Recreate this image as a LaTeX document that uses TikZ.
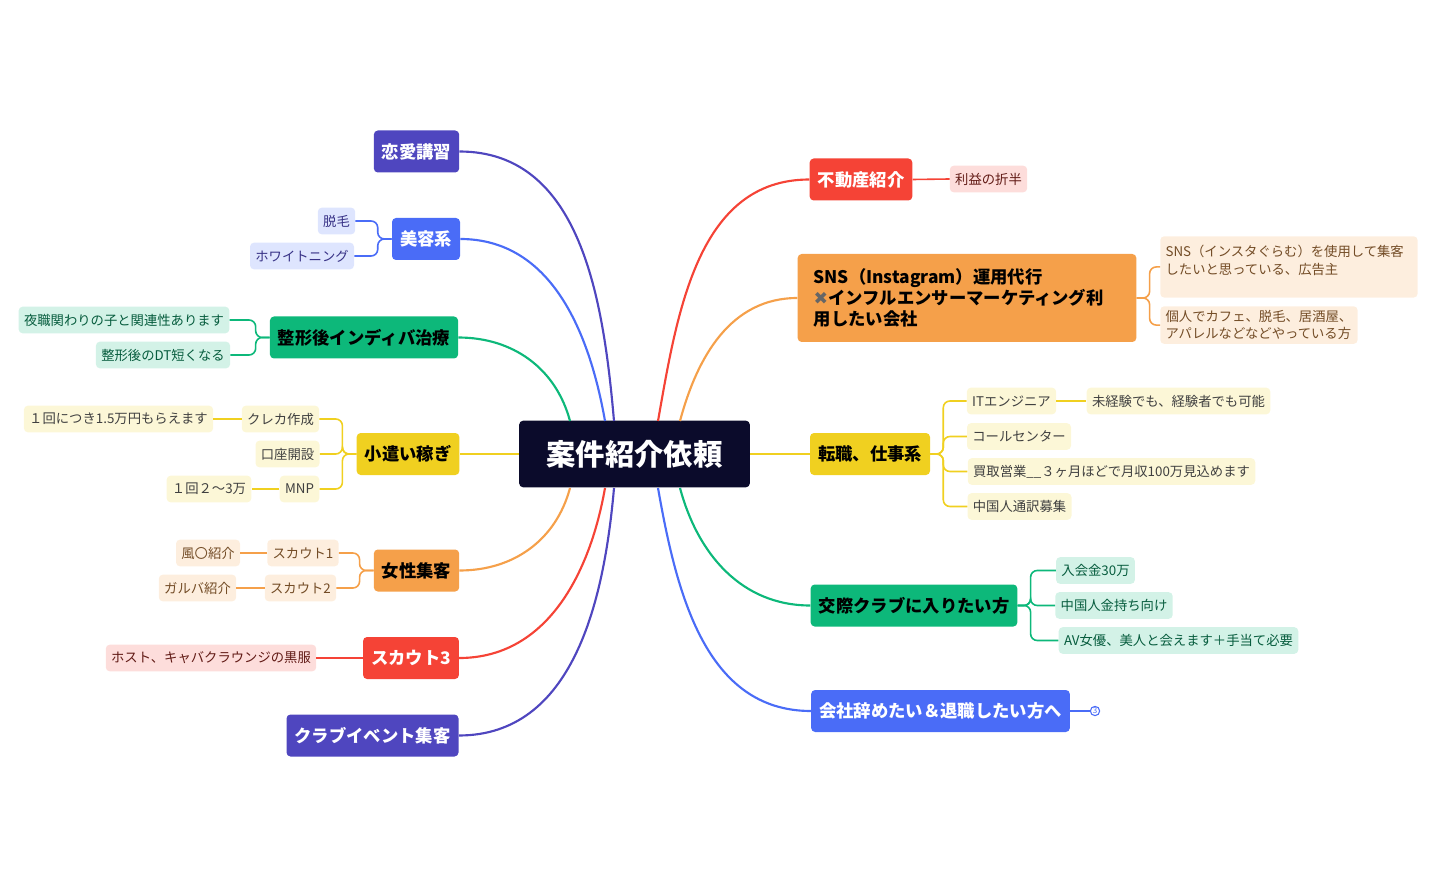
\documentclass[tikz,border=0pt]{standalone}
\usepackage{fontspec}
\setmainfont{Noto Sans CJK JP}
\newfontfamily\symfont{DejaVu Sans}
\usetikzlibrary{positioning}

\definecolor{cnavy}{HTML}{0B0B2B}
\definecolor{cindigo}{HTML}{4F46BF}
\definecolor{cblue}{HTML}{4A6CF7}
\definecolor{cgreen}{HTML}{0DB87A}
\definecolor{cyellow}{HTML}{F0D020}
\definecolor{corange}{HTML}{F5A04A}
\definecolor{cred}{HTML}{F54336}

\tikzset{
  topic/.style={rounded corners=3pt, fill=#1, font=\fontsize{13}{16}\selectfont\bfseries, inner xsep=6pt, minimum height=31.5pt},
  leaf/.style={rounded corners=3pt, fill=#1!18, font=\fontsize{10}{13}\selectfont, inner xsep=4pt, minimum height=20pt},
  link/.style={line width=1.6pt, draw=#1},
  twig/.style={line width=1.2pt, draw=#1, rounded corners=5pt},
}

\begin{document}
\begin{tikzpicture}[x=0.75pt, y=-0.75pt]
  \useasboundingbox (0,0) rectangle (1433,887);

  % centre
  \node[fill=cnavy, rounded corners=3pt, text=white, minimum width=173pt, minimum height=50pt,
        font=\fontsize{22}{26}\selectfont\bfseries] (C) at (634.5,454) {案件紹介依頼};

  % left topics
  \node[topic=cindigo, text=white] (love) at (416.5,151.5) {恋愛講習};
  \node[topic=cblue, text=white] (beauty) at (426,239) {美容系};
  \node[topic=cgreen, text=black] (indiba) at (364,337.5) {整形後インディバ治療};
  \node[topic=cyellow, text=black] (side) at (408,454) {小遣い稼ぎ};
  \node[topic=corange, text=black] (women) at (416.5,570.5) {女性集客};
  \node[topic=cred, text=white] (scout) at (411,658) {スカウト3};
  \node[topic=cindigo, text=white] (club) at (372.5,735.5) {クラブイベント集客};

  % right topics
  \node[topic=cred, text=white] (estate) at (861,179.5) {不動産紹介};
  \node[topic=corange, text=black, align=left, text width=230pt, minimum height=66pt, inner xsep=12pt] (sns) at (967,298)
    {SNS（Instagram）運用代行\\{\symfont\color{black!60}✖}インフルエンサーマーケティング利\\用したい会社};
  \node[topic=cyellow, text=black] (job) at (870,454) {転職、仕事系};
  \node[topic=cgreen, text=black] (dating) at (914,605.5) {交際クラブに入りたい方};
  \node[topic=cblue, text=white] (quit) at (940.5,711) {会社辞めたい＆退職したい方へ};
  \node[circle, draw=cblue, line width=0.8pt, inner sep=0.5pt, text=cblue, font=\fontsize{6}{6}\selectfont] (more) at (1095,711) {3};

  % branches from centre
  \draw[link=cindigo] (614,421) to[out=95,in=0] (love.east);
  \draw[link=cblue] (605,421) to[out=100,in=0] (beauty.east);
  \draw[link=cgreen] (570,421) to[out=105,in=0] (indiba.east);
  \draw[link=cyellow] (C.west) -- (side.east);
  \draw[link=corange] (570,488) to[out=-105,in=0] (women.east);
  \draw[link=cred] (605,488) to[out=-100,in=0] (scout.east);
  \draw[link=cindigo] (614,488) to[out=-95,in=0] (club.east);
  \draw[link=cred] (658,421) to[out=80,in=180] (estate.west);
  \draw[link=corange] (680,421) to[out=75,in=180] (sns.west);
  \draw[link=cyellow] (C.east) -- (job.west);
  \draw[link=cgreen] (680,488) to[out=-75,in=180] (dating.west);
  \draw[link=cblue] (658,488) to[out=-80,in=180] (quit.west);
  \draw[line width=1pt, draw=cblue] (quit.east) -- (more.west);

  % leaves left
  \node[leaf=cblue, text=cindigo!70!black] (hair) at (336.5,221) {脱毛};
  \node[leaf=cblue, text=cindigo!70!black] (white) at (302,256) {ホワイトニング};
  \node[leaf=cgreen, text=cgreen!50!black] (night) at (124,320) {夜職関わりの子と関連性あります};
  \node[leaf=cgreen, text=cgreen!50!black] (dt) at (163,355) {整形後のDT短くなる};
  \node[leaf=cyellow, text=black!75] (card) at (280.5,419) {クレカ作成};
  \node[leaf=cyellow, text=black!75] (bank) at (287.5,454) {口座開設};
  \node[leaf=cyellow, text=black!75] (mnp) at (299.5,489) {MNP};
  \node[leaf=cyellow, text=black!75] (cardpay) at (118.5,419) {１回につき1.5万円もらえます};
  \node[leaf=cyellow, text=black!75] (mnppay) at (209,489) {１回２～3万};
  \node[leaf=corange, text=brown!60!black] (s1) at (303,553) {スカウト1};
  \node[leaf=corange, text=brown!60!black] (s2) at (300.5,588) {スカウト2};
  \node[leaf=corange, text=brown!60!black] (fu) at (208,553) {風〇紹介};
  \node[leaf=corange, text=brown!60!black] (garuba) at (197.5,588) {ガルバ紹介};
  \node[leaf=cred, text=cred!40!black] (host) at (211,658) {ホスト、キャバクラウンジの黒服};

  % leaves right
  \node[leaf=cred, text=cred!40!black] (profit) at (988.5,179) {利益の折半};
  \node[leaf=corange, text=brown!60!black, align=left, text width=185pt, minimum height=46pt, anchor=north west, inner ysep=4pt] (ad) at (1160,236)
    {SNS（インスタぐらむ）を使用して集客\\したいと思っている、広告主\par\vspace{10pt}};
  \node[leaf=corange, text=brown!60!black, align=left, anchor=north west, inner ysep=3pt] (shop) at (1160,306)
    {個人でカフェ、脱毛、居酒屋、\\アパレルなどなどやっている方};
  \node[leaf=cyellow, text=black!75] (it) at (1011.5,401) {ITエンジニア};
  \node[leaf=cyellow, text=black!75] (itok) at (1178.5,401) {未経験でも、経験者でも可能};
  \node[leaf=cyellow, text=black!75] (call) at (1019,436.5) {コールセンター};
  \node[leaf=cyellow, text=black!75] (buy) at (1111.5,471.5) {買取営業\_\_３ヶ月ほどで月収100万見込めます};
  \node[leaf=cyellow, text=black!75] (interp) at (1019.5,506.5) {中国人通訳募集};
  \node[leaf=cgreen, text=cgreen!50!black] (fee) at (1095.5,570.5) {入会金30万};
  \node[leaf=cgreen, text=cgreen!50!black] (rich) at (1114,605.5) {中国人金持ち向け};
  \node[leaf=cgreen, text=cgreen!50!black] (av) at (1178.5,640.5) {AV女優、美人と会えます＋手当て必要};

  % twigs
  \foreach \l in {hair, white} \draw[twig=cblue] (beauty.west) -- ++(-14,0) |- (\l.east);
  \foreach \l in {night, dt} \draw[twig=cgreen] (indiba.west) -- ++(-14,0) |- (\l.east);
  \foreach \l in {card, bank, mnp} \draw[twig=cyellow] (side.west) -- ++(-14,0) |- (\l.east);
  \draw[twig=cyellow] (card.west) -- (cardpay.east);
  \draw[twig=cyellow] (mnp.west) -- (mnppay.east);
  \foreach \l in {s1, s2} \draw[twig=corange] (women.west) -- ++(-14,0) |- (\l.east);
  \draw[twig=corange] (s1.west) -- (fu.east);
  \draw[twig=corange] (s2.west) -- (garuba.east);
  \draw[twig=cred] (scout.west) -- (host.east);
  \draw[twig=cred] (estate.east) -- (profit.west);
  \draw[twig=corange] (sns.east) -- ++(13,0) |- (ad.west);
  \draw[twig=corange] (sns.east) -- ++(13,0) |- (shop.west);
  \foreach \l in {it, call, buy, interp} \draw[twig=cyellow] (job.west -| job.east) -- ++(13,0) |- (\l.west);
  \draw[twig=cyellow] (it.east) -- (itok.west);
  \foreach \l in {fee, rich, av} \draw[twig=cgreen] (dating.east) -- ++(13,0) |- (\l.west);
\end{tikzpicture}
\end{document}
